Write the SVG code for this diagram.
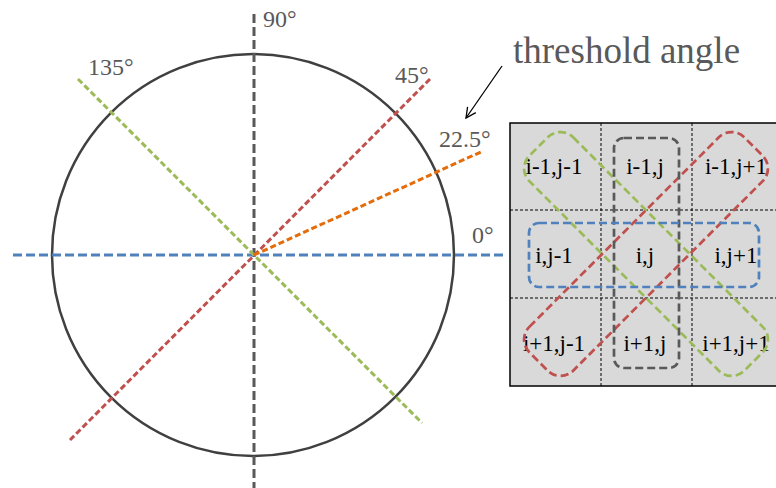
<svg xmlns="http://www.w3.org/2000/svg" width="776" height="488" viewBox="0 0 776 488">
<defs>
<style>
.lbl{font-family:"Liberation Serif",serif;font-size:24px;fill:#595959}
.cell{font-family:"Liberation Serif",serif;font-size:23px;fill:#000;text-anchor:middle}
.ax{fill:none;stroke-width:3}
.grid{stroke:#000;stroke-width:1;stroke-dasharray:3 2}
.box{fill:none;stroke-width:2.7;stroke-dasharray:8 4}
</style>
<marker id="open" viewBox="0 0 12 12" refX="11" refY="6" markerWidth="12" markerHeight="12" markerUnits="userSpaceOnUse" orient="auto">
<path d="M1,1 L11,6 L1,11" fill="none" stroke="#000" stroke-width="1.3"/>
</marker>
</defs>
<rect width="776" height="488" fill="#fff"/>
<g id="circle">
<circle cx="253" cy="255" r="201" fill="none" stroke="#404040" stroke-width="2.5"/>
</g>
<g id="connectors">
<line class="ax" x1="254" y1="14" x2="254" y2="488" stroke="#595959" stroke-dasharray="9 4"/>
<line class="ax" x1="13" y1="255" x2="503" y2="255" stroke="#4F81BD" stroke-dasharray="9 4"/>
<line class="ax" x1="78" y1="79" x2="422" y2="423" stroke="#9BBB59" stroke-dasharray="6 3"/>
<line class="ax" x1="430" y1="79" x2="70" y2="440" stroke="#C0504D" stroke-dasharray="6 3"/>
<line class="ax" x1="254" y1="255" x2="483" y2="151" stroke="#E46C0A" stroke-dasharray="6 3"/>
<line x1="502" y1="66" x2="466" y2="118" stroke="#000" stroke-width="1.3" marker-end="url(#open)"/>
</g>
<g id="labels">
<text class="lbl" x="263" y="27">90°</text>
<text class="lbl" x="88" y="75">135°</text>
<text class="lbl" x="395" y="83">45°</text>
<text class="lbl" x="439" y="147">22.5°</text>
<text class="lbl" x="472" y="243">0°</text>
<text class="lbl" x="513" y="63" style="font-size:37px">threshold angle</text>
</g>
<g id="grid">
<rect x="510" y="123" width="273" height="263" fill="#d9d9d9" stroke="#000" stroke-width="1.5"/>
<line class="grid" x1="601" y1="123" x2="601" y2="386"/>
<line class="grid" x1="692" y1="123" x2="692" y2="386"/>
<line class="grid" x1="510" y1="210" x2="783" y2="210"/>
<line class="grid" x1="510" y1="298" x2="783" y2="298"/>
<text class="cell" x="554" y="174">i-1,j-1</text>
<text class="cell" x="645" y="174">i-1,j</text>
<text class="cell" x="736" y="174">i-1,j+1</text>
<text class="cell" x="554" y="263">i,j-1</text>
<text class="cell" x="645" y="263">i,j</text>
<text class="cell" x="736" y="263">i,j+1</text>
<text class="cell" x="554" y="351">i+1,j-1</text>
<text class="cell" x="645" y="351">i+1,j</text>
<text class="cell" x="736" y="351">i+1,j+1</text>
</g>
<g id="boxes">
<rect class="box" x="494" y="223" width="304" height="62" rx="18" stroke="#9BBB59" transform="rotate(45 646 254)"/>
<rect class="box" x="494" y="223" width="304" height="62" rx="18" stroke="#C0504D" transform="rotate(-45 646 254)"/>
<rect class="box" x="614" y="138" width="65" height="230" rx="10" stroke="#595959"/>
<rect class="box" x="529" y="223" width="230" height="64" rx="10" stroke="#4F81BD"/>
</g>
</svg>
